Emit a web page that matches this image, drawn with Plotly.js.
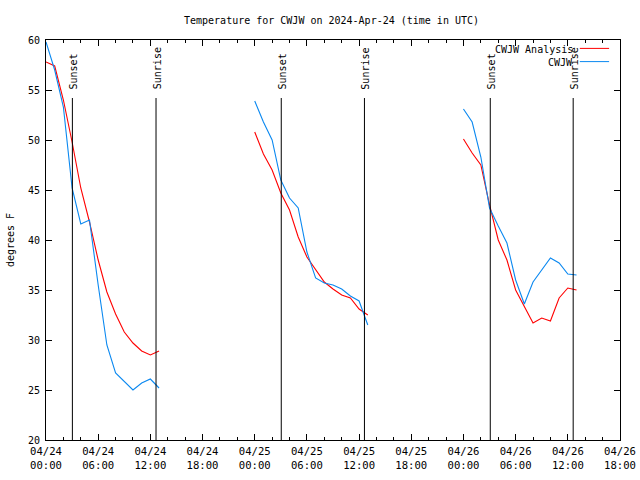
<!DOCTYPE html>
<html>
<head>
<meta charset="utf-8">
<script src="https://cdn.plot.ly/plotly-3.0.1.min.js"></script>
<style>html,body{margin:0;padding:0;background:#fff;}#chart{width:640px;height:480px;}</style>
</head>
<body>
<div id="chart"></div>
<script>
const hours = ['00:00','01:00','02:00','03:00','04:00','05:00','06:00','07:00','08:00','09:00','10:00','11:00','12:00','13:00'];
const days = ['2024-04-24','2024-04-25','2024-04-26'];

const analysisDay1 = [57.8, 57.4, 54.0, 49.8, 45.2, 41.8, 38.0, 34.8, 32.6, 30.8, 29.7, 28.9, 28.5, 28.9];
const analysisDay2 = [50.8, 48.6, 47.0, 44.7, 43.0, 40.3, 38.3, 37.0, 35.8, 35.1, 34.5, 34.2, 33.1, 32.5];
const analysisDay3 = [50.1, 48.7, 47.5, 43.5, 40.0, 38.0, 35.0, 33.4, 31.7, 32.2, 31.9, 34.2, 35.2, 35.0];

const obsDay1 = [59.8, 57.0, 53.3, 45.2, 41.6, 42.0, 35.5, 29.5, 26.7, 25.9, 25.0, 25.7, 26.1, 25.2];
const obsDay2 = [53.9, 51.8, 50.0, 46.0, 44.2, 43.2, 38.8, 36.2, 35.7, 35.5, 35.1, 34.4, 33.9, 31.5];
const obsDay3 = [53.1, 51.8, 48.3, 43.2, 41.4, 39.7, 36.0, 33.6, 35.8, 37.0, 38.2, 37.7, 36.6, 36.5];

const sunTimes = ['2024-04-24 03:02','2024-04-24 12:39','2024-04-25 03:03','2024-04-25 12:37','2024-04-26 03:05','2024-04-26 12:37'];
const sunLabels = ['Sunset','Sunrise','Sunset','Sunrise','Sunset','Sunrise'];

const tickVals = ['2024-04-24 00:00','2024-04-24 06:00','2024-04-24 12:00','2024-04-24 18:00',
                  '2024-04-25 00:00','2024-04-25 06:00','2024-04-25 12:00','2024-04-25 18:00',
                  '2024-04-26 00:00','2024-04-26 06:00','2024-04-26 12:00','2024-04-26 18:00'];
const tickText = ['04/24<br>00:00','04/24<br>06:00','04/24<br>12:00','04/24<br>18:00',
                  '04/25<br>00:00','04/25<br>06:00','04/25<br>12:00','04/25<br>18:00',
                  '04/26<br>00:00','04/26<br>06:00','04/26<br>12:00','04/26<br>18:00'];
const yTicks = [20, 25, 30, 35, 40, 45, 50, 55, 60];

const seriesNames = ['CWJW Analysis', 'CWJW'];
const seriesColors = ['#ff0000', '#0a88f0'];

const FONT = {family: 'DejaVu Sans Mono, Liberation Mono, monospace', size: 10, color: '#000'};
const XFONT = {family: 'DejaVu Sans Mono, Liberation Mono, monospace', size: 10.6, color: '#000'};

const analysis = [analysisDay1, analysisDay2, analysisDay3];
const obs = [obsDay1, obsDay2, obsDay3];

const traces = [];
days.forEach((d, i) => {
  const xs = hours.map(h => d + ' ' + h);
  traces.push({x: xs, y: analysis[i], type: 'scatter', mode: 'lines', name: seriesNames[0],
    line: {color: seriesColors[0], width: 1.1}, showlegend: false, hoverinfo: 'skip'});
  traces.push({x: xs, y: obs[i], type: 'scatter', mode: 'lines', name: seriesNames[1],
    line: {color: seriesColors[1], width: 1.1}, showlegend: false, hoverinfo: 'skip'});
});

const shapes = sunTimes.map(t => ({type: 'line', xref: 'x', yref: 'paper', x0: t, x1: t, y0: 0, y1: 0.855,
  line: {color: '#000', width: 1}}));
const annotations = sunTimes.map((t, i) => ({xref: 'x', yref: 'paper', x: t, y: 0.872, text: sunLabels[i],
  textangle: -90, showarrow: false, xanchor: 'center', yanchor: 'bottom', xshift: 1, font: FONT}));

// legend drawn manually, gnuplot style (text right, sample at right)
seriesNames.forEach((n, i) => {
  const yp = i === 0 ? 0.977 : 0.944;
  annotations.push({xref: 'paper', yref: 'paper', x: 0.922, y: yp, text: n, showarrow: false,
    xanchor: 'right', yanchor: 'middle', font: FONT});
  shapes.push({type: 'line', xref: 'paper', yref: 'paper', x0: 0.930, x1: 0.981, y0: yp + 0.002, y1: yp + 0.002,
    line: {color: seriesColors[i], width: 1}});
});

const layout = {
  width: 640, height: 480,
  margin: {l: 46, r: 20, t: 40, b: 40},
  paper_bgcolor: '#fff', plot_bgcolor: '#fff',
  font: FONT,
  title: {text: 'Temperature for CWJW on 2024-Apr-24 (time in UTC)', font: FONT, x: 0.518, xanchor: 'center', y: 0.958, yanchor: 'middle'},
  xaxis: {
    type: 'date', range: ['2024-04-24 00:00', '2024-04-26 18:00'],
    tickmode: 'array', tickvals: tickVals, ticktext: tickText,
    ticks: 'inside', ticklen: 6, tickcolor: '#000', tickwidth: 1,
    showline: true, linecolor: '#000', linewidth: 1, mirror: 'ticks',
    showgrid: false, zeroline: false, tickfont: XFONT, ticklabelstandoff: 1,
    minor: {dtick: 7200000, tick0: '2024-04-24 00:00', ticks: 'inside', ticklen: 3, tickcolor: '#000', showgrid: false}
  },
  yaxis: {
    range: [20, 60], tickmode: 'array', tickvals: yTicks, ticktext: yTicks.map(String),
    ticks: 'inside', ticklen: 6, tickcolor: '#000', tickwidth: 1,
    showline: true, linecolor: '#000', linewidth: 1, mirror: 'ticks',
    showgrid: false, zeroline: false, tickfont: FONT, ticklabelstandoff: 3,
    title: {text: 'degrees F', font: FONT, standoff: 11}
  },
  shapes: shapes,
  annotations: annotations
};

Plotly.newPlot('chart', traces, layout, {staticPlot: true, displayModeBar: false});
</script>
</body>
</html>
